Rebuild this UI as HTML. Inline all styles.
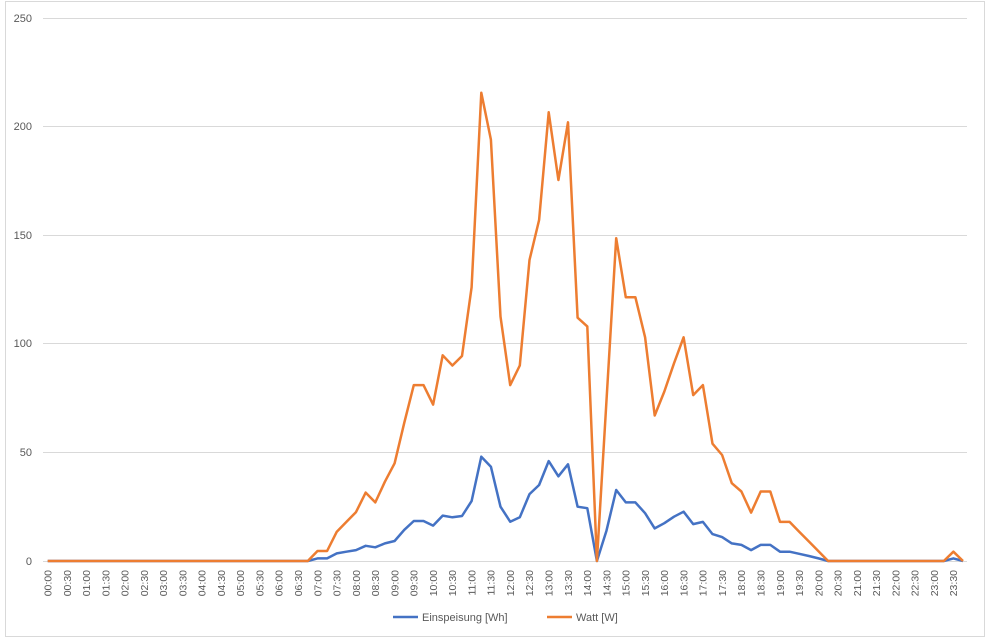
<!DOCTYPE html>
<html><head><meta charset="utf-8"><style>
body{margin:0;background:#fff;}
svg{display:block;font-family:"Liberation Sans",sans-serif;}
</style></head><body>
<svg id="s" width="987" height="641" viewBox="0 0 987 641" xmlns="http://www.w3.org/2000/svg">
<rect x="5.5" y="1.5" width="979" height="635" fill="#fff" stroke="#d9d9d9"/>
<g stroke="#d9d9d9" stroke-width="1">
<line x1="43" x2="967" y1="18.5" y2="18.5"/>
<line x1="43" x2="967" y1="126.5" y2="126.5"/>
<line x1="43" x2="967" y1="235.5" y2="235.5"/>
<line x1="43" x2="967" y1="343.5" y2="343.5"/>
<line x1="43" x2="967" y1="452.5" y2="452.5"/>
<line x1="43" x2="967" y1="561.5" y2="561.5"/>
</g>
<g fill="#595959" font-size="11" text-anchor="end">
<text x="32" y="22">250</text>
<text x="32" y="130">200</text>
<text x="32" y="239">150</text>
<text x="32" y="347">100</text>
<text x="32" y="456">50</text>
<text x="32" y="565">0</text>
</g>
<g id="xl" fill="#595959" font-size="10.5" text-anchor="end"></g>
<polyline id="b" fill="none" stroke="#4472c4" stroke-width="2.5" stroke-linejoin="round"/>
<polyline id="o" fill="none" stroke="#ed7d31" stroke-width="2.5" stroke-linejoin="round"/>
<line x1="393" x2="418" y1="617" y2="617" stroke="#4472c4" stroke-width="2.5"/>
<text x="422" y="621" font-size="11" fill="#595959">Einspeisung [Wh]</text>
<line x1="547" x2="572" y1="617" y2="617" stroke="#ed7d31" stroke-width="2.5"/>
<text x="576" y="621" font-size="11" fill="#595959">Watt [W]</text>
<g fill="#595959" font-size="10.5" text-anchor="end">
<text transform="translate(51.5,570) rotate(-90)">00:00</text>
<text transform="translate(70.8,570) rotate(-90)">00:30</text>
<text transform="translate(90.0,570) rotate(-90)">01:00</text>
<text transform="translate(109.3,570) rotate(-90)">01:30</text>
<text transform="translate(128.6,570) rotate(-90)">02:00</text>
<text transform="translate(147.9,570) rotate(-90)">02:30</text>
<text transform="translate(167.1,570) rotate(-90)">03:00</text>
<text transform="translate(186.4,570) rotate(-90)">03:30</text>
<text transform="translate(205.7,570) rotate(-90)">04:00</text>
<text transform="translate(224.9,570) rotate(-90)">04:30</text>
<text transform="translate(244.2,570) rotate(-90)">05:00</text>
<text transform="translate(263.5,570) rotate(-90)">05:30</text>
<text transform="translate(282.7,570) rotate(-90)">06:00</text>
<text transform="translate(302.0,570) rotate(-90)">06:30</text>
<text transform="translate(321.3,570) rotate(-90)">07:00</text>
<text transform="translate(340.5,570) rotate(-90)">07:30</text>
<text transform="translate(359.8,570) rotate(-90)">08:00</text>
<text transform="translate(379.1,570) rotate(-90)">08:30</text>
<text transform="translate(398.4,570) rotate(-90)">09:00</text>
<text transform="translate(417.6,570) rotate(-90)">09:30</text>
<text transform="translate(436.9,570) rotate(-90)">10:00</text>
<text transform="translate(456.2,570) rotate(-90)">10:30</text>
<text transform="translate(475.4,570) rotate(-90)">11:00</text>
<text transform="translate(494.7,570) rotate(-90)">11:30</text>
<text transform="translate(514.0,570) rotate(-90)">12:00</text>
<text transform="translate(533.2,570) rotate(-90)">12:30</text>
<text transform="translate(552.5,570) rotate(-90)">13:00</text>
<text transform="translate(571.8,570) rotate(-90)">13:30</text>
<text transform="translate(591.1,570) rotate(-90)">14:00</text>
<text transform="translate(610.3,570) rotate(-90)">14:30</text>
<text transform="translate(629.6,570) rotate(-90)">15:00</text>
<text transform="translate(648.9,570) rotate(-90)">15:30</text>
<text transform="translate(668.1,570) rotate(-90)">16:00</text>
<text transform="translate(687.4,570) rotate(-90)">16:30</text>
<text transform="translate(706.7,570) rotate(-90)">17:00</text>
<text transform="translate(725.9,570) rotate(-90)">17:30</text>
<text transform="translate(745.2,570) rotate(-90)">18:00</text>
<text transform="translate(764.5,570) rotate(-90)">18:30</text>
<text transform="translate(783.8,570) rotate(-90)">19:00</text>
<text transform="translate(803.0,570) rotate(-90)">19:30</text>
<text transform="translate(822.3,570) rotate(-90)">20:00</text>
<text transform="translate(841.6,570) rotate(-90)">20:30</text>
<text transform="translate(860.8,570) rotate(-90)">21:00</text>
<text transform="translate(880.1,570) rotate(-90)">21:30</text>
<text transform="translate(899.4,570) rotate(-90)">22:00</text>
<text transform="translate(918.6,570) rotate(-90)">22:30</text>
<text transform="translate(937.9,570) rotate(-90)">23:00</text>
<text transform="translate(957.2,570) rotate(-90)">23:30</text>
</g>
</svg>
<script>
var O={28:4.6,29:4.6,30:13.5,31:18,32:22.5,33:31.5,34:27,35:36.5,36:45,37:63.5,38:81,39:81,40:72,41:94.7,42:90,43:94.4,44:126,45:215.6,46:194,47:112.5,48:81,49:90,50:138.6,51:157,52:206.6,53:175.4,54:202,55:112,56:108,57:0,58:74,59:148.6,60:121.4,61:121.4,62:103,63:67,64:78,65:91,66:103,67:76.4,68:81,69:54,70:48.8,71:35.8,72:32,73:22.3,74:32,75:32,76:18,77:18,78:13.5,79:9,80:4.5,94:4.3};
var B={28:1.2,29:1.2,30:3.5,31:4.3,32:5,33:7,34:6.3,35:8.1,36:9.2,37:14.3,38:18.4,39:18.4,40:16.3,41:20.9,42:20.1,43:20.7,44:27.6,45:48,46:43.4,47:25,48:18.1,49:20.1,50:30.8,51:35,52:46,53:39,54:44.5,55:25,56:24.3,57:0,58:14,59:32.7,60:27,61:27,62:22,63:15,64:17.4,65:20.4,66:22.7,67:17,68:18,69:12.4,70:11,71:8.1,72:7.4,73:5,74:7.4,75:7.4,76:4.3,77:4.3,78:3.3,79:2.3,80:1.2,94:1.2};
function pts(D){var a=[];for(var k=0;k<96;k++){var v=D[k]||0;a.push((47.7+9.635*k).toFixed(1)+','+(561-2.172*v).toFixed(1));}return a.join(' ');}
document.getElementById('b').setAttribute('points',pts(B));
document.getElementById('o').setAttribute('points',pts(O));
</script>
</body></html>
